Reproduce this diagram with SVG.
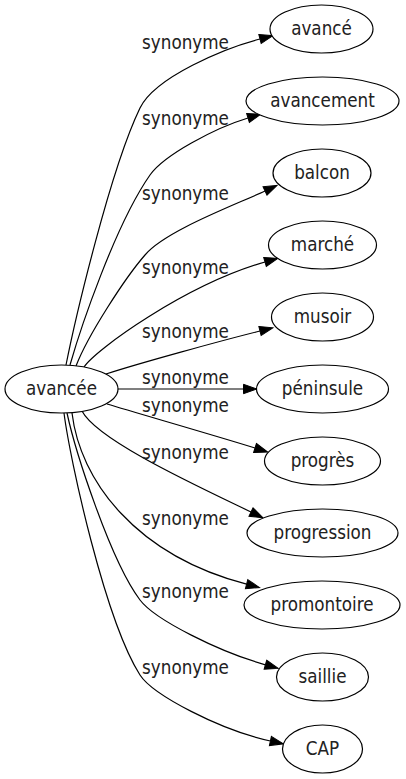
<svg xmlns="http://www.w3.org/2000/svg" width="406" height="779" viewBox="0 0 406 779">
<style>
  .node ellipse { fill: #fff; stroke: #000; stroke-width: 1.2; }
  text { font-family: 'DejaVu Sans Condensed', 'DejaVu Sans', sans-serif; font-stretch: condensed; font-size: 18.67px; fill: #222; text-anchor: middle; }
  .edges path { fill: none; stroke: #000; stroke-width: 1.2; marker-end: url(#arr); }
</style>
<defs>
  <marker id="arr" viewBox="0 0 13.3 9.4" refX="0" refY="4.7" markerWidth="13.3" markerHeight="9.4" markerUnits="userSpaceOnUse" orient="auto" overflow="visible">
    <path d="M0,0 L13.3,4.7 L0,9.4 z" fill="#000" stroke="#000" stroke-width="1"/>
  </marker>
</defs>
<rect width="406" height="779" fill="#fff"/>
<g class="edges" id="edges">
  <path d="M66,365 C75,320 110,170 140,108 C155,77 225,48 260,39"/>
  <path d="M70,365 C80,330 115,225 150,175 C164,155 215,128 248,118"/>
  <path d="M76,366 C88,335 125,278 145,255 C165,231 235,205 265,191"/>
  <path d="M84,367 C95,350 185,285 265,262"/>
  <path d="M106,374 C140,363 220,341 260,331"/>
  <path d="M118,389 L243.5,389"/>
  <path d="M107,404 C140,414 220,437 255,448"/>
  <path d="M82,411 C97,440 195,485 251,512"/>
  <path d="M72,413 C80,480 135,555 246.6,584.2"/>
  <path d="M67,413 C75,450 110,560 140,600 C155,620 220,652 265.4,664.8"/>
  <path d="M64,413 C70,460 105,620 140,675 C153,695 220,730 270.4,741"/>
  <text x="185.5" y="49">synonyme</text>
  <text x="185.5" y="125">synonyme</text>
  <text x="185.5" y="200">synonyme</text>
  <text x="185.5" y="274">synonyme</text>
  <text x="185.5" y="338">synonyme</text>
  <text x="185.5" y="384">synonyme</text>
  <text x="185.5" y="412">synonyme</text>
  <text x="185.5" y="459">synonyme</text>
  <text x="185.5" y="525">synonyme</text>
  <text x="185.5" y="598">synonyme</text>
  <text x="185.5" y="674">synonyme</text>
</g>
<g class="node" id="n-avancee"><ellipse cx="61.5" cy="389" rx="56.5" ry="24"/><text x="61.5" y="395">avancée</text></g>
<g class="node" id="n-avance"><ellipse cx="321.5" cy="29" rx="51.5" ry="24"/><text x="321.5" y="35">avancé</text></g>
<g class="node" id="n-avancement"><ellipse cx="322.5" cy="101" rx="76.5" ry="24"/><text x="322.5" y="107">avancement</text></g>
<g class="node" id="n-balcon"><ellipse cx="322" cy="173" rx="49" ry="24"/><text x="322" y="179">balcon</text></g>
<g class="node" id="n-marche"><ellipse cx="322.5" cy="245" rx="54" ry="24"/><text x="322.5" y="251">marché</text></g>
<g class="node" id="n-musoir"><ellipse cx="322.5" cy="317" rx="51" ry="24"/><text x="322.5" y="323">musoir</text></g>
<g class="node" id="n-peninsule"><ellipse cx="322.5" cy="389" rx="66" ry="24"/><text x="322.5" y="395">péninsule</text></g>
<g class="node" id="n-progres"><ellipse cx="322.5" cy="461" rx="58" ry="24"/><text x="322.5" y="467">progrès</text></g>
<g class="node" id="n-progression"><ellipse cx="322.5" cy="533" rx="75.5" ry="24"/><text x="322.5" y="539">progression</text></g>
<g class="node" id="n-promontoire"><ellipse cx="322" cy="605" rx="78" ry="24"/><text x="322" y="611">promontoire</text></g>
<g class="node" id="n-saillie"><ellipse cx="322.5" cy="677" rx="46" ry="24"/><text x="322.5" y="683">saillie</text></g>
<g class="node" id="n-cap"><ellipse cx="322.5" cy="749" rx="40" ry="24"/><text x="322.5" y="755">CAP</text></g>
</svg>
